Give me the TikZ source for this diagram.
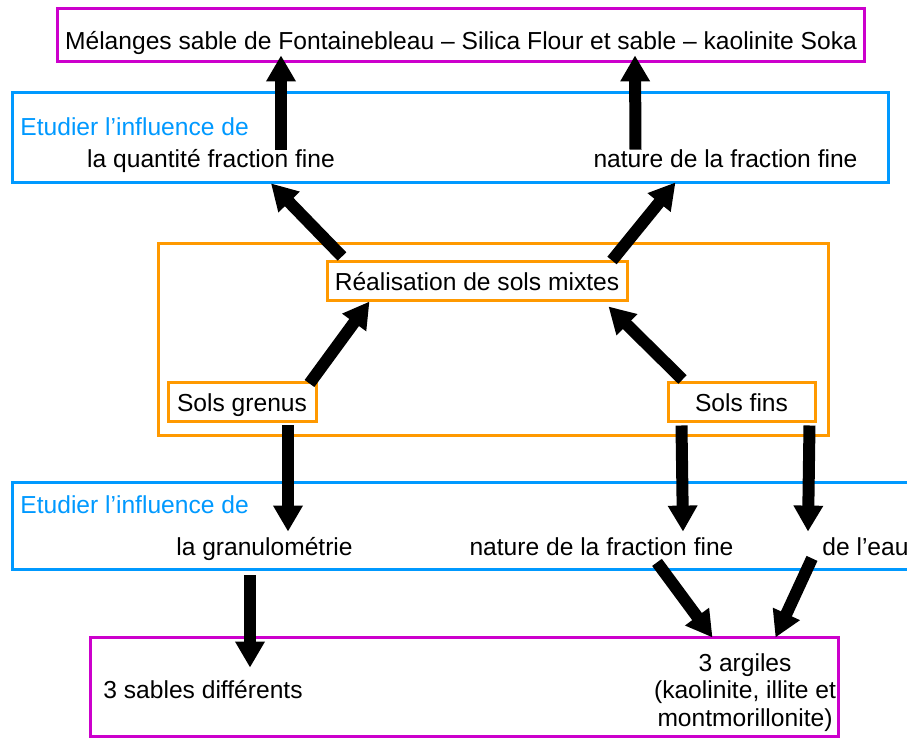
\documentclass[tikz,border=0pt]{standalone}
\usepackage{fontspec}
\setmainfont{Liberation Sans}
\usetikzlibrary{arrows.meta,calc}

\definecolor{cmagenta}{RGB}{204,0,204}
\definecolor{cbleu}{RGB}{0,153,255}
\definecolor{corange}{RGB}{255,153,0}

\tikzset{
  fleche/.style={line width=6pt,-{Triangle[length=13pt,width=14pt]}},
  cadre/.style={draw,line width=1.5pt,inner sep=0pt},
  boite/.style={draw=corange,fill=white,line width=1.5pt,inner sep=0pt,
    text height=8.8pt,text depth=0pt,minimum height=19.5pt},
  txt/.style={inner sep=0pt,text height=9pt,text depth=2.5pt,anchor=base}
}

\begin{document}
\begin{tikzpicture}[x=0.5pt,y=-0.5pt,font=\fontsize{12.3pt}{13.75pt}\selectfont]
    \useasboundingbox (0,0) rectangle (907,738);

    % cadres
    \node[cadre,draw=cmagenta,minimum width=403.5pt,minimum height=26.5pt] (haut) at (460.5,35.5) {};
    \node[cadre,draw=cbleu,minimum width=438pt,minimum height=45pt] (bleuhaut) at (450,138) {};
    \node[cadre,draw=corange,minimum width=335pt,minimum height=96pt] (orange) at (493,340) {};
    \node[cadre,draw=cbleu,minimum width=453pt,minimum height=43.5pt] (bleubas) at (465,526.5) {};
    \node[cadre,draw=cmagenta,minimum width=374pt,minimum height=49.5pt] (bas) at (464,686.5) {};

    % textes
    \node[txt] (melanges) at (461,50) {Mélanges sable de Fontainebleau – Silica Flour et sable – kaolinite Soka};
    \node[txt,anchor=base west,text=cbleu] (etudhaut) at (20,136) {Etudier l’influence de};
    \node[txt] (quantite) at (211,168) {la quantité fraction fine};
    \node[txt] (naturehaut) at (725.5,168) {nature de la fraction fine};

    \node[boite,minimum width=150pt] (mixtes) at (477,281.5) {Réalisation de sols mixtes};
    \node[boite,minimum width=74pt] (grenus) at (242,402.5) {Sols grenus};
    \node[boite,minimum width=73.5pt] (fins) at (741.5,402.5) {Sols fins};

    \node[txt,anchor=base west,text=cbleu] (etudbas) at (20,514) {Etudier l’influence de};
    \node[txt] (granulo) at (264.5,556) {la granulométrie};
    \node[txt] (naturebas) at (601.5,556) {nature de la fraction fine};
    \node[txt,anchor=base west] (eau) at (822,556) {de l’eau};

    \node[txt] (sables) at (203,698) {3 sables différents};
    \node[inner sep=0pt,anchor=base,align=center] (argiles) at (745,726) {3 argiles\\(kaolinite, illite et\\montmorillonite)};

    % fleches
    \draw[fleche] ($(quantite.north)+(70,0)$) -- ($(melanges.south)+(-180,0)$);
    \draw[fleche] ($(naturehaut.north)+(-90,0)$) -- ($(melanges.south)+(174,0)$);
    \draw[fleche] ($(mixtes.north)+(-135,-4)$) -- ($(quantite.south)+(60,10)$);
    \draw[fleche] ($(mixtes.north)+(135,0)$) -- ($(naturehaut.south)+(-50,9)$);
    \draw[fleche] ($(grenus.north east)+(-8,2)$) -- ($(mixtes.south west)+(44,-1)$);
    \draw[fleche] ($(fins.north west)+(16,-2)$) -- ($(mixtes.south east)+(-20,4)$);
    \draw[fleche] ($(grenus.south)+(46,2)$) -- ($(granulo.north)+(23.5,-6)$);
    \draw[fleche] ($(fins.south west)+(15,2)$) -- ($(naturebas.north)+(81.5,-6)$);
    \draw[fleche] ($(fins.south east)+(-7,2)$) -- ($(eau.north west)+(-14,-6)$);
    \draw[fleche] ($(granulo.south)+(-14.5,14)$) -- ($(sables.north)+(47,-12)$);
    \draw[fleche] ($(naturebas.south)+(55.5,1)$) -- ($(bas.north west)+(624,2)$);
    \draw[fleche] ($(eau.south west)+(-10,-3)$) -- ($(bas.north west)+(687,2)$);
\end{tikzpicture}
\end{document}
